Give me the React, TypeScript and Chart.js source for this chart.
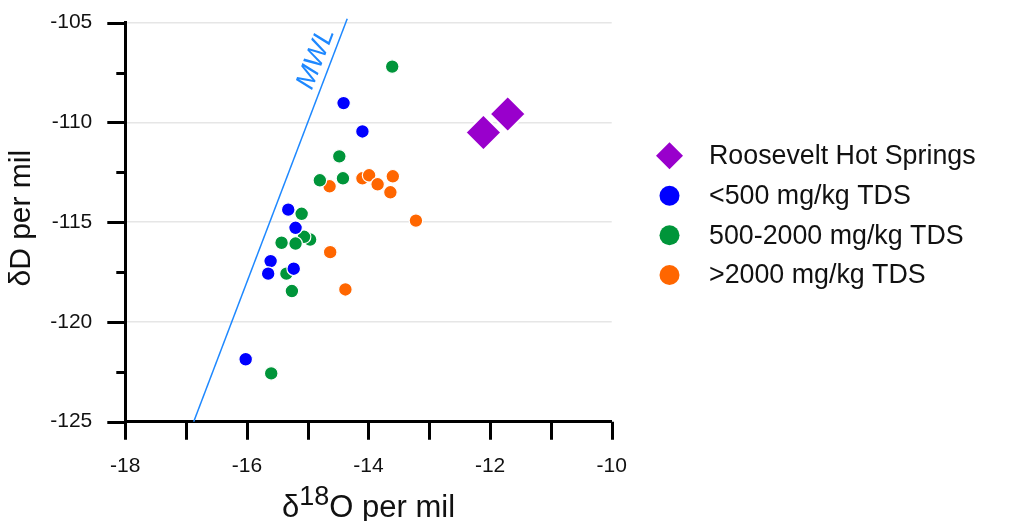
import React, { useEffect, useRef } from 'react';
import { Chart, registerables } from 'chart.js';

Chart.register(...registerables);

const FONT = '"Liberation Sans", Arial, Helvetica, sans-serif';

// ---- data ----
const seriesLabels = ['Roosevelt Hot Springs', '<500 mg/kg TDS', '500-2000 mg/kg TDS', '>2000 mg/kg TDS'];
const seriesColors = ['#9900cc', '#0000ff', '#00953a', '#ff6600'];

const rhsX = [-12.11, -11.71];
const rhsY = [-110.5, -109.58];

const lowX = [-14.41, -14.1, -15.32, -15.2, -15.61, -15.65, -15.23, -16.02];
const lowY = [-109.03, -110.45, -114.37, -115.28, -116.95, -117.58, -117.33, -121.87];

const midX = [-13.61, -14.48, -14.8, -14.42, -15.1, -14.96, -15.06, -15.43, -15.2, -15.35, -15.26, -15.6];
const midY = [-107.2, -111.7, -112.9, -112.8, -114.58, -115.87, -115.73, -116.03, -116.07, -117.58, -118.45, -122.58];

const highX = [-14.64, -14.1, -13.99, -13.85, -13.6, -13.64, -14.63, -14.38, -13.22];
const highY = [-113.2, -112.8, -112.65, -113.1, -112.7, -113.5, -116.5, -118.37, -114.92];

const mwlX = [-16.875, -14.35];
const mwlY = [-125, -104.8];
const mwlLabel = 'MWL';
const mwlLabelAt = [-14.6, -106.8];

const xTicks = [-18, -17, -16, -15, -14, -13, -12, -11, -10];
const yMajorTicks = [-125, -120, -115, -110, -105];
const yMinorTicks = [-122.5, -117.5, -112.5, -107.5];

const xTitleParts = ['δ', '18', 'O per mil'];
const yTitle = 'δD per mil';

const pts = (xs: number[], ys: number[]) => xs.map((x, i) => ({ x, y: ys[i] }));

const decorPlugin = {
  id: 'decor',
  afterDraw(chart: any) {
    const { ctx, chartArea } = chart;
    const xs = chart.scales.x;
    const ys = chart.scales.y;
    ctx.save();
    // tick marks
    ctx.strokeStyle = '#000';
    ctx.lineWidth = 3;
    ctx.lineCap = 'butt';
    ctx.beginPath();
    xTicks.forEach((v) => {
      const px = Math.round(xs.getPixelForValue(v)) + 0.5;
      ctx.moveTo(px, chartArea.bottom);
      ctx.lineTo(px, chartArea.bottom + 18);
    });
    yMajorTicks.forEach((v) => {
      const py = Math.round(ys.getPixelForValue(v)) + 0.5;
      ctx.moveTo(chartArea.left - 18, py);
      ctx.lineTo(chartArea.left, py);
    });
    yMinorTicks.forEach((v) => {
      const py = Math.round(ys.getPixelForValue(v)) + 0.5;
      ctx.moveTo(chartArea.left - 9, py);
      ctx.lineTo(chartArea.left, py);
    });
    ctx.stroke();

    // MWL label
    const ax = xs.getPixelForValue(mwlLabelAt[0]) - 16;
    const ay = ys.getPixelForValue(mwlLabelAt[1]);
    const angle = Math.atan2(
      ys.getPixelForValue(mwlY[1]) - ys.getPixelForValue(mwlY[0]),
      xs.getPixelForValue(mwlX[1]) - xs.getPixelForValue(mwlX[0])
    );
    ctx.save();
    ctx.translate(ax, ay);
    ctx.rotate(angle);
    ctx.fillStyle = '#1e88ff';
    ctx.font = `italic 27px ${FONT}`;
    ctx.textAlign = 'center';
    ctx.textBaseline = 'middle';
    ctx.fillText(mwlLabel, 0, 0);
    ctx.restore();

    // axis titles
    ctx.fillStyle = '#111';
    ctx.textBaseline = 'alphabetic';
    ctx.textAlign = 'left';
    const big = `31px ${FONT}`;
    const small = `27px ${FONT}`;
    ctx.font = big;
    const w0 = ctx.measureText(xTitleParts[0]).width;
    const w2 = ctx.measureText(xTitleParts[2]).width;
    ctx.font = small;
    const w1 = ctx.measureText(xTitleParts[1]).width;
    const total = w0 + w1 + w2;
    const cx = (chartArea.left + chartArea.right) / 2;
    let tx = cx - total / 2;
    const baseY = 517;
    ctx.font = big;
    ctx.fillText(xTitleParts[0], tx, baseY);
    tx += w0;
    ctx.font = small;
    ctx.fillText(xTitleParts[1], tx, baseY - 12);
    tx += w1;
    ctx.font = big;
    ctx.fillText(xTitleParts[2], tx, baseY);

    ctx.save();
    ctx.translate(22, (chartArea.top + chartArea.bottom) / 2 - 4);
    ctx.rotate(-Math.PI / 2);
    ctx.textAlign = 'center';
    ctx.textBaseline = 'middle';
    ctx.font = `30px ${FONT}`;
    ctx.fillText(yTitle, 0, 0);
    ctx.restore();

    // legend
    const lx = 669.5;
    const rowY = [155.7, 195.7, 235.3, 275];
    seriesLabels.forEach((lab, i) => {
      const y = rowY[i];
      ctx.fillStyle = seriesColors[i];
      ctx.beginPath();
      if (i === 0) {
        const r = 13.5;
        ctx.moveTo(lx, y - r);
        ctx.lineTo(lx + r, y);
        ctx.lineTo(lx, y + r);
        ctx.lineTo(lx - r, y);
        ctx.closePath();
      } else {
        ctx.arc(lx, y, 10, 0, Math.PI * 2);
      }
      ctx.fill();
      ctx.fillStyle = '#111';
      ctx.font = `26.8px ${FONT}`;
      ctx.textAlign = 'left';
      ctx.textBaseline = 'middle';
      ctx.fillText(lab, 709, y + 1);
    });
    ctx.restore();
  },
};

export default function App() {
  const ref = useRef<HTMLCanvasElement>(null);
  useEffect(() => {
    if (!ref.current) return;
    const circle = (label: string, data: any[], color: string) => ({
      type: 'scatter' as const,
      label,
      data,
      backgroundColor: color,
      borderColor: '#ffffff',
      borderWidth: 1.2,
      pointRadius: 6.8,
      pointStyle: 'circle',
    });
    const chart = new Chart(ref.current, {
      type: 'scatter',
      data: {
        datasets: [
          {
            label: seriesLabels[0],
            data: pts(rhsX, rhsY),
            backgroundColor: seriesColors[0],
            borderColor: '#ffffff',
            borderWidth: 2,
            pointRadius: 18,
            pointStyle: 'rectRot',
          } as any,
          circle(seriesLabels[1], pts(lowX, lowY), seriesColors[1]),
          circle(seriesLabels[2], pts(midX, midY), seriesColors[2]),
          circle(seriesLabels[3], pts(highX, highY), seriesColors[3]),
          {
            type: 'line',
            label: 'MWL',
            data: pts(mwlX, mwlY),
            borderColor: '#1e88ff',
            borderWidth: 1.5,
            pointRadius: 0,
            showLine: true,
            fill: false,
            clip: false,
          } as any,
        ],
      },
      options: {
        animation: false,
        responsive: true,
        maintainAspectRatio: false,
        events: [],
        layout: { padding: { top: 22.7, right: 397.3, left: 0, bottom: 0 } },
        plugins: { legend: { display: false }, tooltip: { enabled: false } },
        scales: {
          x: {
            type: 'linear',
            min: -18,
            max: -10,
            afterFit: (s: any) => {
              s.height = 99.3;
              s.paddingLeft = 0;
              s.paddingRight = 0;
            },
            grid: { display: false, drawTicks: false },
            border: { display: true, color: '#000', width: 3 },
            ticks: {
              stepSize: 1,
              padding: 32,
              color: '#111',
              font: { family: FONT, size: 21 },
              maxRotation: 0,
              autoSkip: false,
              callback: (v: any) => (Number(v) % 2 === 0 ? String(v) : ''),
            },
          },
          y: {
            type: 'linear',
            min: -125,
            max: -105,
            afterFit: (s: any) => {
              s.width = 125.3;
              s.paddingTop = 0;
              s.paddingBottom = 0;
            },
            grid: {
              drawTicks: false,
              lineWidth: 1.5,
              color: (c: any) => (c.tick && c.tick.value % 5 === 0 ? '#e6e6e6' : 'rgba(0,0,0,0)'),
            },
            border: { display: true, color: '#000', width: 3 },
            ticks: {
              stepSize: 2.5,
              padding: 33,
              color: '#111',
              font: { family: FONT, size: 21 },
              autoSkip: false,
              callback: (v: any) => (Number(v) % 5 === 0 ? String(v) : ''),
            },
          },
        },
      },
      plugins: [decorPlugin],
    } as any);
    return () => chart.destroy();
  }, []);
  return (
    <div style={{ position: 'fixed', left: 0, top: 0, width: 1009, height: 521, background: '#fff' }}>
      <canvas ref={ref} />
    </div>
  );
}
